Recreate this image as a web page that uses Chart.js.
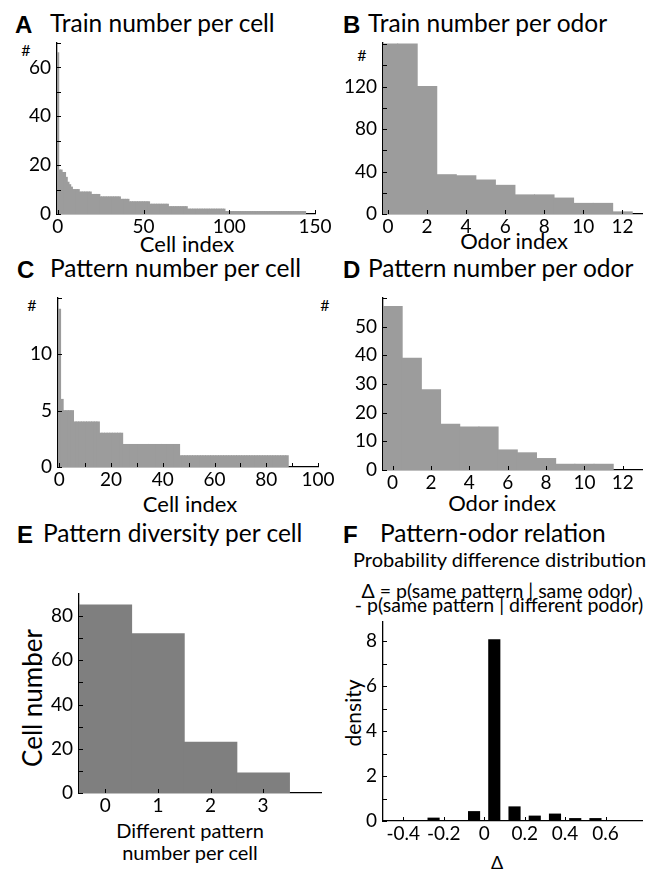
<!DOCTYPE html>
<html>
<head>
<meta charset="utf-8">
<script src="https://cdn.jsdelivr.net/npm/chart.js@4.4.1/dist/chart.umd.min.js"></script>
<style>
  body { margin: 0; background: #fff; }
  #fig { position: relative; width: 660px; height: 872px; overflow: hidden; font-family: Lato, "Open Sans", sans-serif; color: #000; }
  #fig canvas { position: absolute; }
  .t { position: absolute; white-space: nowrap; line-height: 1; }
  .c { transform: translate(-50%, -50%); }
  .tag { font-family: "Liberation Sans", Arial, sans-serif; font-weight: bold; font-size: 24px; }
  .head { font-size: 24.5px; }
  .axt { font-size: 22px; transform: translateX(-50%); }
  .hash { font-size: 16px; }
  .rot { transform: translate(-50%, -50%) rotate(-90deg); }
</style>
</head>
<body>
<div id="fig">
  <div class="t tag" style="left:15px;top:13px">A</div>
  <div class="t head" style="left:50px;top:11px">Train number per cell</div>
  <div class="t tag" style="left:343px;top:13px">B</div>
  <div class="t head" style="left:368px;top:11px">Train number per odor</div>
  <div class="t tag" style="left:17px;top:258px">C</div>
  <div class="t head" style="left:50px;top:256px">Pattern number per cell</div>
  <div class="t tag" style="left:343px;top:258px">D</div>
  <div class="t head" style="left:368px;top:256px">Pattern number per odor</div>
  <div class="t tag" style="left:17px;top:523px">E</div>
  <div class="t head" style="left:43px;top:521px">Pattern diversity per cell</div>
  <div class="t tag" style="left:343px;top:523px">F</div>
  <div class="t head" style="left:380px;top:521px">Pattern-odor relation</div>

  <div class="t" style="left:353px;top:549px;font-size:20px">Probability difference distribution</div>
  <div class="t" style="left:497px;top:581px;font-size:19.5px;transform:translateX(-50%)">&Delta; = p(same pattern | same odor)</div>
  <div class="t" style="left:499px;top:595px;font-size:19.5px;transform:translateX(-50%)">- p(same pattern | different podor)</div>

  <div class="t hash c" style="left:26px;top:50px">#</div>
  <div class="t hash c" style="left:362px;top:55px">#</div>
  <div class="t hash c" style="left:32px;top:305px">#</div>
  <div class="t hash c" style="left:325px;top:305px">#</div>

  <div class="t axt" style="left:187px;top:233px">Cell index</div>
  <div class="t axt" style="left:514px;top:230px">Odor index</div>
  <div class="t axt" style="left:190px;top:493px">Cell index</div>
  <div class="t axt" style="left:502px;top:492px">Odor index</div>
  <div class="t axt" style="left:190px;top:820px;font-size:20px">Different pattern</div>
  <div class="t axt" style="left:190px;top:842px;font-size:20px">number per cell</div>
  <div class="t rot" style="left:32px;top:698px;font-size:26px">Cell number</div>
  <div class="t rot" style="left:352px;top:713px;font-size:21px">density</div>
  <div class="t c" style="left:497px;top:862px;font-size:18px">&Delta;</div>

  <canvas id="cA"></canvas>
  <canvas id="cB"></canvas>
  <canvas id="cC"></canvas>
  <canvas id="cD"></canvas>
  <canvas id="cE"></canvas>
  <canvas id="cF"></canvas>
</div>
<script>
// A: spike trains per cell, cells sorted by count
const trainsPerCell = [66, 18, 18, 17, 17, 15, 13, 12, 11, 10, 10, 10, 10,
  9, 9, 9, 9, 9, 9, 9,
  8, 8, 8, 8, 8,
  7, 7, 7, 7, 7, 7, 7, 7, 7, 7, 7, 7,
  6, 6, 6, 6, 6,
  5, 5, 5, 5, 5, 5, 5, 5, 5, 5, 5, 5,
  4, 4, 4, 4, 4, 4, 4, 4, 4, 4, 4,
  3, 3, 3, 3, 3, 3, 3, 3, 3, 3, 3,
  2, 2, 2, 2, 2, 2, 2, 2, 2, 2, 2, 2, 2, 2, 2, 2, 2, 2, 2, 2, 2, 2,
  1, 1, 1, 1, 1, 1, 1, 1, 1, 1, 1, 1, 1, 1, 1, 1, 1, 1, 1, 1, 1, 1, 1, 1,
  1, 1, 1, 1, 1, 1, 1, 1, 1, 1, 1, 1, 1, 1, 1, 1, 1, 1, 1, 1, 1, 1, 1];

// B: spike trains per odor
const trainsPerOdor = [160, 160, 120, 37, 36, 32, 27, 18, 18, 15, 10, 10, 2];

// C: distinct patterns per cell, sorted
const patternsPerCell = [14, 6, 5, 5, 5, 5,
  4, 4, 4, 4, 4, 4, 4, 4, 4, 4,
  3, 3, 3, 3, 3, 3, 3, 3, 3,
  2, 2, 2, 2, 2, 2, 2, 2, 2, 2, 2, 2, 2, 2, 2, 2, 2, 2, 2, 2, 2, 2,
  1, 1, 1, 1, 1, 1, 1, 1, 1, 1, 1, 1, 1, 1, 1, 1, 1, 1, 1, 1, 1,
  1, 1, 1, 1, 1, 1, 1, 1, 1, 1, 1, 1, 1, 1, 1, 1, 1, 1, 1, 1, 1];

// D: distinct patterns per odor
const patternsPerOdor = [57, 39, 28, 16, 15, 15, 7, 6, 4, 2, 2, 2];

// E: number of cells by count of different patterns
const diversityBins = [0, 1, 2, 3];
const cellsPerDiversity = [85, 72, 23, 9];

// F: histogram of the probability difference
const deltaBins = [-0.45, -0.35, -0.25, -0.15, -0.05, 0.05, 0.15, 0.25, 0.35, 0.45, 0.55, 0.65, 0.75];
const deltaDensity = [0, 0, 0.15, 0, 0.44, 8.08, 0.65, 0.24, 0.33, 0.13, 0.13, 0, 0];

// tick marks and the subset that gets a label
const ticksA = { x: [0, 50, 100, 150], xl: [0, 50, 100, 150], y: [0, 10, 20, 30, 40, 50, 60, 70], yl: [0, 20, 40, 60] };
const ticksB = { x: [0, 2, 4, 6, 8, 10, 12], xl: [0, 2, 4, 6, 8, 10, 12], y: [0, 20, 40, 60, 80, 100, 120, 140, 160], yl: [0, 40, 80, 120] };
const ticksC = { x: [0, 10, 20, 30, 40, 50, 60, 70, 80, 90, 100], xl: [0, 20, 40, 60, 80, 100], y: [0, 5, 10, 15], yl: [0, 5, 10] };
const ticksD = { x: [0, 2, 4, 6, 8, 10, 12], xl: [0, 2, 4, 6, 8, 10, 12], y: [0, 10, 20, 30, 40, 50, 60], yl: [0, 10, 20, 30, 40, 50] };
const ticksE = { x: [0, 1, 2, 3], xl: [0, 1, 2, 3], y: [0, 10, 20, 30, 40, 50, 60, 70, 80], yl: [0, 20, 40, 60, 80] };
const ticksF = { x: [-0.4, -0.2, 0, 0.2, 0.4, 0.6], xl: [-0.4, -0.2, 0, 0.2, 0.4, 0.6], y: [0, 1, 2, 3, 4, 5, 6, 7, 8], yl: [0, 2, 4, 6, 8] };

const GRAY = '#9c9c9c';
const DARK = '#7f7f7f';
const PAD_L = 60, PAD_T = 10, PAD_R = 30, PAD_B = 35;

// matlab style: short tick marks pointing into the plot
const inwardTicks = {
  id: 'inwardTicks',
  afterDraw(chart) {
    const { ctx, chartArea: a, scales: { x, y } } = chart;
    ctx.save();
    ctx.strokeStyle = '#000';
    ctx.lineWidth = 1;
    ctx.beginPath();
    x.ticks.forEach(t => {
      const px = Math.round(x.getPixelForValue(t.value)) + 0.5;
      ctx.moveTo(px, a.bottom);
      ctx.lineTo(px, a.bottom - 4);
    });
    y.ticks.forEach(t => {
      const py = Math.round(y.getPixelForValue(t.value)) + 0.5;
      ctx.moveTo(a.left, py);
      ctx.lineTo(a.left + 4, py);
    });
    ctx.stroke();
    ctx.restore();
  }
};

function axis(min, max, tickVals, labelVals, isX) {
  return {
    type: 'linear', min, max, offset: false, z: 1,
    grid: { display: false, drawTicks: false, offset: false },
    border: { display: true, color: '#000', width: 1.3 },
    afterBuildTicks: s => { s.ticks = tickVals.map(v => ({ value: v })); },
    afterFit: s => {
      if (isX) { s.height = PAD_B; s.paddingLeft = 0; s.paddingRight = 0; }
      else { s.width = PAD_L; s.paddingTop = 0; s.paddingBottom = 0; }
    },
    ticks: {
      autoSkip: false, maxRotation: 0, minRotation: 0, color: '#000', padding: isX ? 1 : 6,
      font: { family: 'Lato', size: 19 },
      callback: v => labelVals.includes(v) ? String(v) : ''
    }
  };
}

// box = plot area in page pixels
function panel(id, box, xs, ys, points, color, barPct, tk) {
  const cv = document.getElementById(id);
  const w = box.right - box.left + PAD_L + PAD_R;
  const h = box.bottom - box.top + PAD_T + PAD_B;
  cv.width = w; cv.height = h;
  cv.style.left = (box.left - PAD_L) + 'px';
  cv.style.top = (box.top - PAD_T) + 'px';
  cv.style.width = w + 'px'; cv.style.height = h + 'px';
  return new Chart(cv, {
    type: 'bar',
    data: {
      datasets: [{
        data: points,
        backgroundColor: color,
        borderWidth: 0,
        barPercentage: barPct,
        categoryPercentage: 1,
        inflateAmount: barPct === 1 ? 0.5 : 0,
        clip: 0
      }]
    },
    options: {
      responsive: false,
      animation: false,
      events: [],
      layout: { padding: { left: 0, top: PAD_T, right: PAD_R, bottom: 0 } },
      plugins: { legend: { display: false }, tooltip: { enabled: false } },
      scales: {
        x: axis(xs[0], xs[1], tk.x, tk.xl, true),
        y: axis(ys[0], ys[1], tk.y, tk.yl, false)
      }
    },
    plugins: [inwardTicks]
  });
}

const byIndex = arr => arr.map((v, i) => ({ x: i, y: v }));
const paired = (xs, ys) => xs.map((x, i) => ({ x, y: ys[i] }));

panel('cA', { left: 57, top: 43, right: 315, bottom: 214 }, [-0.5, 150], [0, 70], byIndex(trainsPerCell), GRAY, 1, ticksA);
panel('cB', { left: 383, top: 43, right: 642, bottom: 214 }, [-0.25, 13], [0, 161], byIndex(trainsPerOdor), GRAY, 1, ticksB);
panel('cC', { left: 58, top: 298, right: 318, bottom: 467 }, [-0.5, 100], [0, 15], byIndex(patternsPerCell), GRAY, 1, ticksC);
panel('cD', { left: 383, top: 298, right: 642, bottom: 470 }, [-0.5, 13], [0, 60], byIndex(patternsPerOdor), GRAY, 1, ticksD);
panel('cE', { left: 79, top: 594, right: 321, bottom: 793 }, [-0.5, 4.1], [0, 90], paired(diversityBins, cellsPerDiversity), DARK, 1, ticksE);
panel('cF', { left: 383, top: 622, right: 642, bottom: 821 }, [-0.5, 0.78], [0, 8.85], paired(deltaBins, deltaDensity), '#000', 0.6, ticksF);
</script>
</body>
</html>
